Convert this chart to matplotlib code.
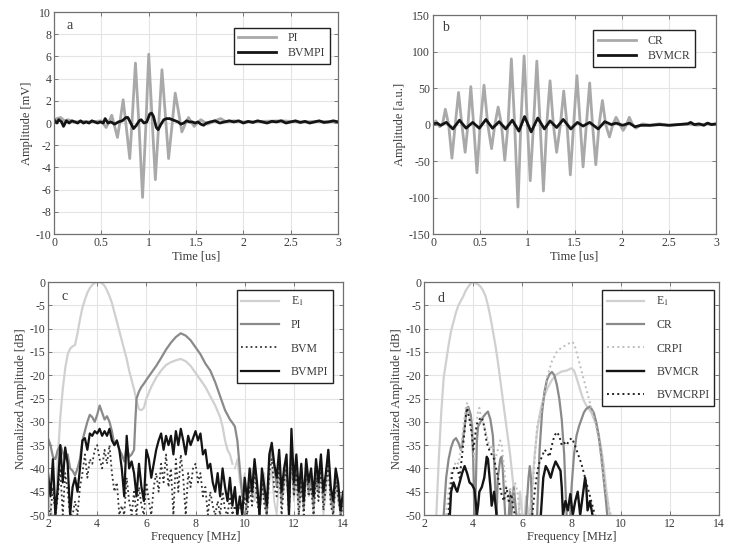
#!/usr/bin/env python3
# -*- coding: utf-8 -*-

import numpy as np
import matplotlib
matplotlib.use('Agg')
import matplotlib.pyplot as plt

plt.rcParams['font.family'] = ['Liberation Serif', 'DejaVu Serif']
plt.rcParams['mathtext.fontset'] = 'stix'
plt.rcParams['axes.unicode_minus'] = False
plt.rcParams['lines.solid_joinstyle'] = 'round'

# ---------- panel a : time signals [us], [mV] ----------
pi_t = [0.00, 0.03, 0.07, 0.11, 0.15, 0.20, 0.30, 0.40, 0.50, 0.55, 0.58, 0.61, 0.64, 0.67, 0.70,
        0.73, 0.765, 0.80, 0.83, 0.86, 0.90, 0.935, 0.97, 1.00, 1.035, 1.07, 1.105, 1.14, 1.175,
        1.21, 1.245, 1.28, 1.315, 1.35, 1.385, 1.42, 1.45, 1.48, 1.515, 1.55, 1.62, 1.70, 1.76,
        1.82, 1.90, 2.00, 2.20, 2.40, 2.60, 2.80, 3.00]
pi_v = [0.3, 0.4, 0.5, 0.2, 0.3, 0.1, 0.15, 0.1, 0.2, -0.4, 0.1, 0.7, -0.3, -1.3, 0.3,
        2.1, -0.5, -3.2, 1.0, 5.4, -0.6, -6.7, -0.2, 6.2, 0.5, -5.1, -0.2, 4.8, 0.8,
        -3.2, -0.3, 2.7, 1.0, -0.8, -0.1, 0.5, 0.1, -0.3, 0.0, 0.3, -0.1, 0.2, 0.4,
        0.1, 0.2, 0.1, 0.15, 0.2, 0.1, 0.15, 0.1]

bvmpi_t = [0.00, 0.03, 0.05, 0.08, 0.10, 0.13, 0.16, 0.19, 0.22, 0.25, 0.28, 0.31, 0.34, 0.37,
           0.40, 0.43, 0.46, 0.49, 0.52, 0.54, 0.57, 0.60, 0.64, 0.68, 0.72, 0.76, 0.78, 0.81,
           0.84, 0.87, 0.90, 0.92, 0.95, 0.98, 1.01, 1.03, 1.05, 1.08, 1.10, 1.13, 1.16, 1.19,
           1.22, 1.25, 1.28, 1.31, 1.34, 1.37, 1.40, 1.43, 1.46, 1.49, 1.52, 1.55, 1.58, 1.61,
           1.65, 1.70, 1.75, 1.80, 1.85, 1.90, 1.95, 2.00, 2.05, 2.10, 2.15, 2.20, 2.25, 2.30,
           2.35, 2.40, 2.45, 2.50, 2.55, 2.60, 2.65, 2.70, 2.75, 2.80, 2.85, 2.90, 2.95, 3.00]
bvmpi_v = [0.3, 0.0, 0.3, 0.1, -0.3, 0.2, 0.0, 0.2, 0.1, 0.0, 0.2, 0.0, 0.1, 0.0,
           0.2, 0.1, 0.0, 0.1, 0.0, 0.4, 0.0, 0.1, -0.1, 0.1, 0.2, 0.5, 0.5, 0.0,
           -0.5, -0.2, 0.2, 0.3, 0.0, 0.1, 0.8, 0.9, 0.6, -0.4, -0.6, -0.1, 0.3, 0.4,
           0.4, 0.3, 0.2, 0.1, -0.1, 0.0, 0.2, 0.1, 0.1, 0.0, 0.1, -0.1, -0.2, 0.0,
           0.1, 0.2, 0.0, 0.1, 0.2, 0.1, 0.2, 0.0, 0.15, 0.05, 0.2, 0.1, 0.0, 0.15,
           0.1, 0.2, 0.0, 0.1, 0.2, 0.05, 0.15, 0.0, 0.1, 0.2, 0.05, 0.1, 0.2, 0.1]

# ---------- panel b : time signals [us], [a.u.] ----------
cr_t = [0.00, 0.03, 0.07, 0.10, 0.13, 0.165, 0.20, 0.235, 0.27, 0.305, 0.34, 0.37, 0.40, 0.43,
        0.465, 0.50, 0.54, 0.58, 0.62, 0.655, 0.69, 0.725, 0.76, 0.795, 0.83, 0.865, 0.90,
        0.93, 0.965, 1.00, 1.03, 1.065, 1.10, 1.135, 1.17, 1.205, 1.24, 1.275, 1.31, 1.35,
        1.385, 1.42, 1.455, 1.49, 1.525, 1.56, 1.59, 1.625, 1.66, 1.69, 1.725, 1.76, 1.795,
        1.83, 1.87, 1.905, 1.94, 1.98, 2.015, 2.05, 2.08, 2.115, 2.15, 2.22, 2.30, 2.40,
        2.50, 2.60, 2.70, 2.80, 2.90, 3.00]
cr_v = [3, 5, -3, 0, 21, 0, -46, 0, 44, 0, -38, 0, 52, 0,
        -66, 0, 54, 0, -33, 0, 24, 0, -49, 0, 90, 0, -113,
        0, 94, 0, -77, 0, 87, 0, -91, 0, 60, 0, -38, 0,
        46, 0, -69, 0, 67, 0, -58, 0, 57, 0, -55, 0, 33,
        0, -17, 0, 10, 0, -8, 0, 10, 0, -5, 1, -1, 1,
        -1, 0, 1, -1, 1, 0]

bvmcr_t = [0.00, 0.04, 0.08, 0.14, 0.21, 0.28, 0.35, 0.42, 0.49, 0.56, 0.63, 0.70, 0.77, 0.84,
           0.91, 0.97, 1.04, 1.11, 1.18, 1.24, 1.31, 1.38, 1.46, 1.53, 1.59, 1.66, 1.75, 1.82,
           1.89, 1.94, 2.01, 2.08, 2.14, 2.20, 2.30, 2.40, 2.50, 2.60, 2.70, 2.73, 2.77, 2.82,
           2.87, 2.91, 2.95, 3.00]
bvmcr_v = [1, 2, -1, 3, -6, 6, -5, 3, -5, 7, -5, 4, -6, 6,
           -9, 11, -10, 9, -6, 5, -4, 7, -6, 3, -2, 3, -6, 4,
           0, 2, -1, 2, -3, -1, -1, 0, -1, 0, 1, 3, 0, 1,
           -1, 2, 0, 1]

# ---------- panel c : spectra [MHz], [dB] ----------
e1c_f = [2.0, 2.15, 2.3, 2.4, 2.5, 2.6, 2.7, 2.8, 2.9, 3.0, 3.1, 3.2, 3.3, 3.4, 3.5, 3.6, 3.7,
         3.8, 3.9, 4.0, 4.1, 4.2, 4.3, 4.4, 4.5, 4.6, 4.7, 4.8, 4.9, 5.0, 5.1, 5.2, 5.3, 5.4,
         5.5, 5.6, 5.7, 5.8, 5.9, 6.0, 6.2, 6.4, 6.6, 6.8, 7.0, 7.2, 7.4, 7.6, 7.8, 8.0, 8.2,
         8.4, 8.6, 8.8, 9.0, 9.1, 9.2, 9.3, 9.4, 9.5]
e1c_v = [-45, -50, -50, -38, -29, -23, -18.5, -15.5, -14.3, -13.8, -13.5, -11, -8, -5.5, -3.8,
         -2.3, -1.3, -0.6, -0.2, 0, 0, -0.3, -0.8, -1.8, -3, -4.5, -6.5, -8.5, -10.5, -12.5,
         -14.5, -16.5, -19, -21, -23, -25.5, -27.3, -27.5, -27, -25, -22.5, -20.5, -19, -17.8,
         -17.2, -16.8, -16.5, -17, -18, -19.5, -21, -22.5, -24.5, -26.5, -29, -31, -34, -36,
         -37, -39]
e1c_noise = [-40, -38, -43, -45,
             -41, -48, -44, -40, -47, -43, -50, -45, -41, -50,
             -43, -40, -47, -50, -42, -48, -44, -41, -50, -38,
             -47, -42, -50, -44, -48, -41, -46, -43, -50, -42,
             -46, -40, -50, -45, -38, -47, -50, -44, -47, -50,
             -48]

pic_f = [2.0, 2.1, 2.2, 2.3, 2.4, 2.5, 2.6, 2.7, 2.8, 2.9, 3.0, 3.1, 3.2, 3.3, 3.4, 3.5, 3.6,
         3.7, 3.8, 3.9, 4.0, 4.1, 4.2, 4.3, 4.4, 4.5, 4.6, 4.7, 4.8, 4.9, 5.0, 5.1, 5.2, 5.3,
         5.4, 5.5, 5.55, 5.6, 5.7, 5.8, 5.9, 6.0, 6.2, 6.4, 6.6, 6.8, 7.0, 7.2, 7.4, 7.6, 7.8,
         8.0, 8.2, 8.4, 8.6, 8.8, 9.0, 9.2, 9.4, 9.5, 9.6, 9.7, 9.8, 9.9]
pic_v = [-33.5, -35, -37.5, -38, -36, -35, -36.5, -38, -37, -40, -40.5, -41.5, -40, -38, -34,
         -32, -30, -28.5, -29, -30, -28.5, -26.5, -28, -29.5, -28.8, -30, -32, -35, -34, -36,
         -37, -38.5, -35, -37.5, -37, -36, -30, -25, -23.5, -22.5, -21.8, -21, -19.5, -18,
         -16.3, -14.5, -13, -11.8, -11, -11.5, -12.5, -14, -15.5, -17.5, -19, -21.5, -24.5,
         -27.5, -29.5, -30.2, -31, -34, -40, -46]
pic_noise = [-50, -47, -42, -46, -40, -44, -50, -42, -46, -50,
             -39, -36, -40, -44, -38, -47, -42, -39, -48, -34,
             -45, -39, -47, -41, -49, -40, -45, -42, -48, -40,
             -45, -38, -47, -42, -36, -46, -49, -41, -45, -50,
             -46]

bvmc_v = [-48, -50, -44, -50, -46, -40, -50, -41, -45, -50,
          -50, -47, -50, -44, -41, -37, -42, -38, -39, -36,
          -35, -38, -40, -36, -39, -35, -41, -45, -43, -50,
          -48, -50, -42, -47, -50, -45, -50, -44, -48, -50,
          -43, -47, -50, -44, -41, -45, -39, -43, -37, -44,
          -40, -50, -38, -45, -37, -42, -50, -41, -44, -40,
          -39, -43, -41, -46, -44, -50, -45, -48, -50, -47,
          -50, -45, -49, -50, -46, -50, -48, -50, -47, -50,
          -46, -50, -44, -48, -40, -47, -50, -43, -48, -50,
          -41, -38, -44, -46, -39, -50, -43, -40, -50, -36,
          -46, -41, -50, -43, -50, -40, -46, -44, -50, -42,
          -47, -40, -49, -44, -39, -48, -50, -43, -46, -50,
          -48]
bvmpic_v = [-41, -46, -38, -50, -44, -35, -43, -35.5, -39, -50,
            -44, -42, -45, -40, -34, -33.5, -36, -32.5, -33, -32,
            -32.5, -31.5, -33, -32, -33, -31.5, -34, -35, -34, -36,
            -40, -46, -33, -40, -38.5, -41, -46, -39, -44, -47,
            -36, -38, -42, -39, -36, -34, -32.5, -36, -33, -35,
            -33, -37, -32, -35, -31.5, -34, -37, -33, -35, -33.5,
            -32, -34, -32.5, -37, -36, -40, -39, -43, -45, -41,
            -46, -40, -44, -47, -42, -48, -44, -50, -46, -50,
            -42, -47, -40, -45, -38, -43, -50, -40, -44, -48,
            -37, -34.5, -39, -42, -36, -45, -40, -37, -50, -31.5,
            -43, -37, -45, -39, -47, -38, -43, -40, -46, -38,
            -43, -37, -45, -41, -36, -44, -47, -40, -43, -49,
            -45]

# ---------- panel d : spectra [MHz], [dB]  (None = below -50 dB) ----------
e1d_f = [2.5, 2.6, 2.7, 2.8, 2.9, 3.0, 3.1, 3.2, 3.3, 3.4, 3.5, 3.6, 3.7, 3.8, 3.9, 4.0, 4.1,
         4.2, 4.3, 4.4, 4.5, 4.6, 4.7, 4.8, 4.9, 5.0, 5.1, 5.2, 5.3, 5.4, 5.5, 5.6, 5.7, 5.75,
         5.85, 5.9, 6.0, 6.1, 6.15, 6.25, 6.3, 6.4, 6.5, 6.6, 6.7, 6.8, 6.9, 7.0, 7.2, 7.4,
         7.6, 7.8, 8.0, 8.1, 8.2, 8.4, 8.5, 8.6, 8.8, 9.0, 9.1, 9.2, 9.3, 9.4, 9.5, 9.55]
e1d_v = [-50, -38, -28, -20.5, -17, -13.5, -10.5, -8.5, -6.5, -5, -4, -3, -1.8, -1, -0.3, 0,
         -0.3, -0.5, -1, -1.8, -3, -5, -7.5, -10.5, -13.5, -17, -21, -25, -29, -33, -37, -42,
         -47, -50, -50, -45, -50, -50, -46, -50, -50, -44, -37, -32, -28.5, -26, -24.5, -23,
         -21, -19.8, -19.2, -19, -18.5, -19, -20.5, -24, -25.5, -26.5, -28, -30.5, -32.5,
         -35.5, -39, -44, -48, -50]

crd_f = [2.8, 2.9, 3.0, 3.1, 3.2, 3.3, 3.4, 3.5, 3.55, 3.6, 3.7, 3.75, 3.8, 3.9, 3.95, 4.0, 4.05,
         4.1, 4.15, 4.2, 4.3, 4.4, 4.5, 4.6, 4.7, 4.8, 4.85, 4.9, 4.95, 5.0, 5.1, 5.15, 5.2,
         5.25, 5.3, 5.35, 5.45, 5.5, 5.55, 5.65, 5.75, 5.8, 6.15, 6.25, 6.3, 6.35, 6.4, 6.5,
         6.6, 6.7, 6.8, 6.9, 7.0, 7.1, 7.2, 7.3, 7.4, 7.5, 7.6, 7.7, 7.75, 7.8, 7.9, 7.95,
         8.0, 8.1, 8.2, 8.3, 8.4, 8.5, 8.6, 8.75, 8.9, 9.0, 9.1, 9.2, 9.3, 9.4, 9.45]
crd_v = [-50, -42, -38, -35.5, -34, -33.5, -34.5, -36, -35, -33, -29, -27, -26.8, -28.5, -31,
         -38, -50, -45, -34, -31, -30, -29, -28.3, -27.8, -29.5, -33, -38, -45, -50, -42, -38,
         -37.5, -40, -45, -50, None, -50, -45, -50, -44, -50, None, -50, -42, -39.5, -42, -50,
         None, -50, -36, -28, -23.5, -21, -19.8, -19.3, -20, -22, -25, -29.5, -37, -44, -50,
         None, -50, -44, -37, -33, -31, -29.5, -28, -27.2, -26.7, -28, -30, -33, -37, -42,
         -47, -50]

crpid_f = [2.9, 3.0, 3.1, 3.2, 3.3, 3.4, 3.5, 3.6, 3.7, 3.75, 3.8, 3.9, 4.0, 4.05, 4.1, 4.2,
           4.25, 4.3, 4.4, 4.5, 4.6, 4.7, 4.8, 4.9, 5.0, 5.1, 5.15, 5.2, 5.3, 5.4, 5.5, 5.6,
           5.7, 5.8, 5.9, 6.1, 6.3, 6.4, 6.5, 6.6, 6.7, 6.8, 6.9, 7.0, 7.2, 7.4, 7.6, 7.8, 8.0,
           8.1, 8.2, 8.3, 8.4, 8.5, 8.6, 8.75, 8.9, 9.0, 9.1, 9.2, 9.3, 9.4, 9.5, 9.6]
crpid_v = [-50, -45, -41, -40, -38.5, -39, -36, -31, -27, -26, -27.5, -31, -35, -38, -32, -27.5,
           -27, -28.5, -30, -32, -34, -36, -35, -38, -36, -34, -34.5, -37, -42, -47, -44, -48,
           -43, -45, -50, None, -50, -46, -38, -31, -29, -27, -23.5, -20.5, -17, -15, -14,
           -13.5, -12.8, -13.2, -15, -17, -19, -21, -23, -26, -29, -31, -33.5, -38, -42, -45,
           -48, -50]

bvmcrd_f = [3.05, 3.1, 3.2, 3.3, 3.35, 3.45, 3.55, 3.65, 3.75, 3.85, 3.95, 4.05, 4.1, 4.15,
            4.2, 4.25, 4.35, 4.45, 4.55, 4.6, 4.65, 4.7, 4.75, 4.85, 4.95, 5.5, 6.75, 6.85,
            6.95, 7.05, 7.15, 7.25, 7.35, 7.45, 7.55, 7.6, 7.65, 7.75, 7.85, 7.95, 8.05, 8.15,
            8.25, 8.35, 8.45, 8.55, 8.6, 8.65, 8.75, 8.85]
bvmcrd_v = [-50, -45, -43, -44.5, -45, -43, -41, -39.5, -41, -43, -43.5, -44.5, -47, -50,
            -48, -45, -44, -42, -37.5, -38, -41, -44, -48, -45, -50, None, -50, -42,
            -39.5, -40.5, -42, -40, -38.5, -39.5, -40.5, -44, -50, -47, -49, -45.5, -50, -47,
            -45, -50, -46, -42, -44, -49, -47, -50]

bvmcrpid_f = [3.0, 3.05, 3.15, 3.25, 3.35, 3.45, 3.55, 3.65, 3.7, 3.75, 3.85, 3.95, 4.0, 4.05,
              4.15, 4.25, 4.35, 4.45, 4.55, 4.65, 4.75, 4.85, 4.95, 5.05, 5.15, 5.25, 5.35,
              5.45, 5.55, 5.65, 5.7, 6.0, 6.4, 6.5, 6.6, 6.7, 6.8, 6.9, 7.0, 7.1, 7.2, 7.3,
              7.4, 7.5, 7.6, 7.7, 7.8, 7.9, 8.0, 8.1, 8.2, 8.3, 8.4, 8.5, 8.6, 8.7, 8.8, 8.9,
              8.95]
bvmcrpid_v = [-50, -46, -41, -39.5, -40, -42, -37, -32, -28.5, -27, -29.5, -33, -36, -34,
              -30.5, -29.5, -29, -31, -34.5, -36, -37, -38, -40.5, -43, -45.5, -47, -44,
              -47, -45.5, -49, -50, None, -50, -45, -41, -38.5, -37.5, -36, -36.5, -37.5, -35,
              -33, -32.2, -33, -35, -34.5, -35, -34, -33.5, -34.5, -36, -37.5, -39, -41, -43,
              -45, -47, -49, -50]

time_ticks = [0, 0.5, 1, 1.5, 2, 2.5, 3]
time_labels = ['0', '0.5', '1', '1.5', '2', '2.5', '3']
mv_ticks = [10, 8, 6, 4, 2, 0, -2, -4, -6, -8, -10]
au_ticks = [150, 100, 50, 0, -50, -100, -150]
freq_ticks = [2, 4, 6, 8, 10, 12, 14]
db_ticks = [0, -5, -10, -15, -20, -25, -30, -35, -40, -45, -50]

C_E1 = '#d0d0d0'
C_MID = '#8a8a8a'
C_LIGHT = '#a9a9a9'
C_DARK = '#141414'
TXT = '#3a3a3a'


def arr(v):
    return np.array([np.nan if x is None else x for x in v], dtype=float)


def style(ax, xt, yt, xlim, ylim, xlabel, ylabel, letter, lx, ly):
    ax.set_xlim(*xlim)
    ax.set_ylim(*ylim)
    ax.set_xticks(xt)
    ax.set_yticks(yt)
    if xt is time_ticks:
        ax.set_xticklabels(time_labels)
    else:
        ax.set_xticklabels([str(t) for t in xt])
    ax.set_yticklabels([str(t) for t in yt])
    ax.grid(True, color='#e4e4e4', lw=0.8)
    ax.set_axisbelow(True)
    ax.tick_params(direction='in', top=True, right=True, length=3, width=0.7,
                   colors='#777777', labelcolor=TXT, labelsize=8.5, pad=2)
    for s in ax.spines.values():
        s.set_color('#707070')
        s.set_linewidth(0.9)
    ax.set_xlabel(xlabel, fontsize=9, color=TXT, labelpad=1)
    ax.set_ylabel(ylabel, fontsize=9, color=TXT, labelpad=2)
    ax.text(lx, ly, letter, transform=ax.transAxes, fontsize=10, color=TXT,
            ha='left', va='center')


def legend(ax, anchor, spacing):
    leg = ax.legend(loc='upper right', bbox_to_anchor=anchor, fontsize=8.5,
                    fancybox=False, framealpha=1, edgecolor='#222222',
                    handlelength=3.2, handletextpad=1.0, labelspacing=spacing,
                    borderpad=0.4, borderaxespad=0)
    leg.get_frame().set_linewidth(1.0)
    for t in leg.get_texts():
        t.set_color(TXT)


fig = plt.figure(figsize=(7.34, 5.5), dpi=100)
fig.patch.set_facecolor('white')

ax_a = fig.add_axes([0.0736, 0.5745, 0.387, 0.4036])
ax_b = fig.add_axes([0.590, 0.5745, 0.3856, 0.398])
ax_c = fig.add_axes([0.0654, 0.0636, 0.402, 0.4236])
ax_d = fig.add_axes([0.5777, 0.0636, 0.402, 0.4236])

# a
ax_a.plot(pi_t, pi_v, color=C_LIGHT, lw=2.0, label='PI')
ax_a.plot(bvmpi_t, bvmpi_v, color=C_DARK, lw=2.0, label='BVMPI')
style(ax_a, time_ticks, mv_ticks, (0, 3), (-10, 10), 'Time [us]', 'Amplitude [mV]',
      'a', 0.045, 0.94)
legend(ax_a, (0.972, 0.93), 0.25)

# b
ax_b.plot(cr_t, cr_v, color=C_LIGHT, lw=2.0, label='CR')
ax_b.plot(bvmcr_t, bvmcr_v, color=C_DARK, lw=2.0, label='BVMCR')
style(ax_b, time_ticks, au_ticks, (0, 3), (-150, 150), 'Time [us]', 'Amplitude [a.u.]',
      'b', 0.03, 0.945)
legend(ax_b, (0.926, 0.93), 0.25)

# c
f_grid = np.linspace(2, 14, len(bvmc_v))
ax_c.plot(e1c_f, e1c_v, color=C_E1, lw=1.6, label='E$_1$')
ax_c.plot(np.linspace(9.6, 14, len(e1c_noise)), e1c_noise, color=C_E1, lw=1.3)
ax_c.plot(pic_f, pic_v, color=C_MID, lw=1.6, label='PI')
ax_c.plot(np.linspace(10, 14, len(pic_noise)), pic_noise, color=C_MID, lw=1.3)
ax_c.plot(f_grid, bvmc_v, color='#333333', lw=1.3, ls=':', label='BVM')
ax_c.plot(f_grid, bvmpic_v, color=C_DARK, lw=1.6, label='BVMPI')
style(ax_c, freq_ticks, db_ticks, (2, 14), (-50, 0), 'Frequency [MHz]',
      'Normalized Amplitude [dB]', 'c', 0.045, 0.936)
legend(ax_c, (0.966, 0.966), 0.95)

# d
ax_d.plot(e1d_f, arr(e1d_v), color=C_E1, lw=1.6, label='E$_1$')
ax_d.plot(crd_f, arr(crd_v), color=C_MID, lw=1.6, label='CR')
ax_d.plot(crpid_f, arr(crpid_v), color='#bdbdbd', lw=1.4, ls=':', label='CRPI')
ax_d.plot(bvmcrd_f, arr(bvmcrd_v), color=C_DARK, lw=1.7, label='BVMCR')
ax_d.plot(bvmcrpid_f, arr(bvmcrpid_v), color='#222222', lw=1.4, ls=':', label='BVMCRPI')
style(ax_d, freq_ticks, db_ticks, (2, 14), (-50, 0), 'Frequency [MHz]',
      'Normalized Amplitude [dB]', 'd', 0.045, 0.93)
legend(ax_d, (0.983, 0.966), 0.95)

fig.savefig('out.png', dpi=100, facecolor='white')
